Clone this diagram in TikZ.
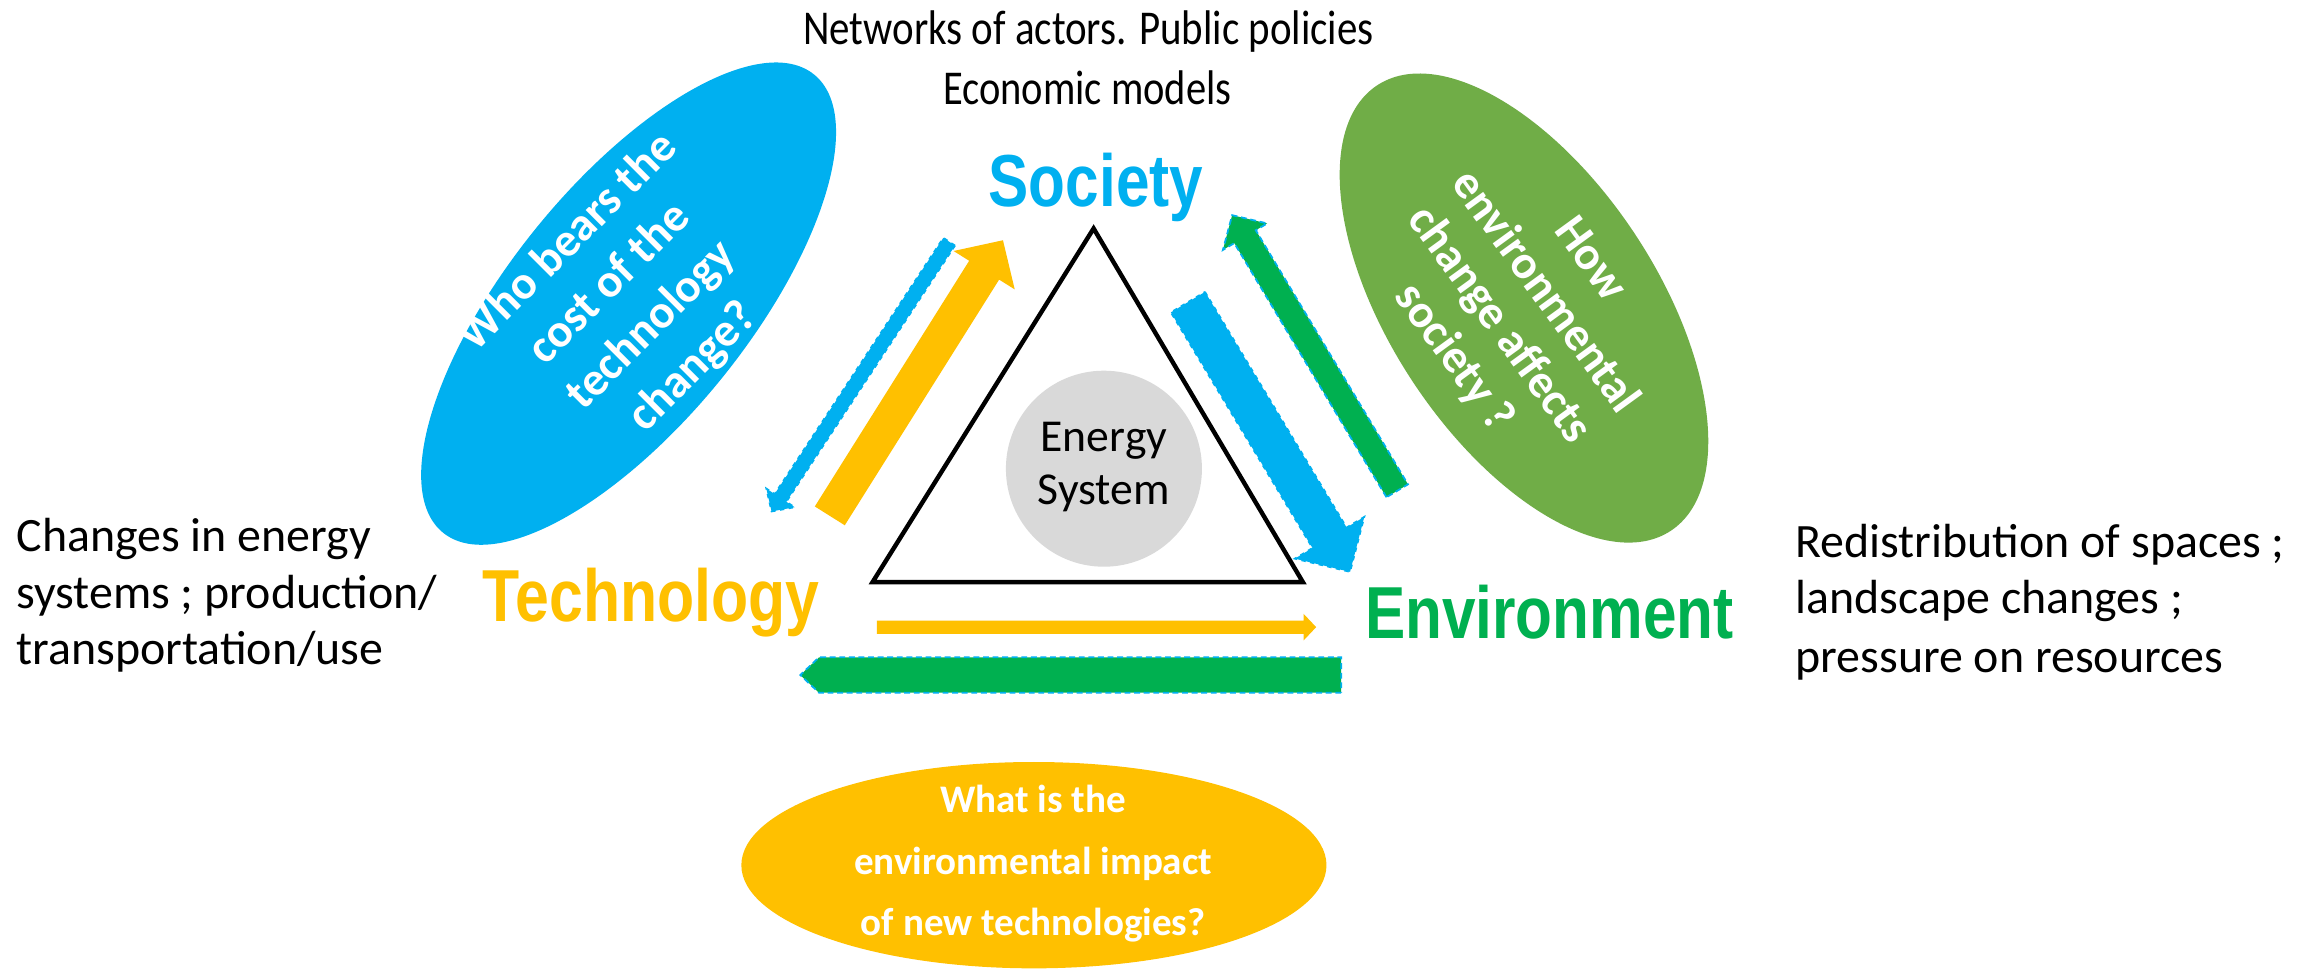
\documentclass[tikz,border=0pt]{standalone}
\usepackage{fontspec}
\setmainfont{Carlito}
\newfontfamily\headfont{Liberation Sans}
\usepackage{graphicx}
\usetikzlibrary{calc,shapes.geometric}
\definecolor{cblue}{HTML}{00B0F0}
\definecolor{cyellow}{HTML}{FFC000}
\definecolor{cgreen}{HTML}{00B050}
\definecolor{cleaf}{HTML}{70AD47}
\definecolor{cgray}{HTML}{D9D9D9}
% #1 style, #2 tail, #3 tip, #4 half body, #5 half head, #6 head length
\newcommand\blockarrow[6]{%
  \coordinate (ba-hb) at ($(#3)!#6!(#2)$);
  \path[#1] ($(#2)!#4!90:(#3)$) -- ($(ba-hb)!#4!-90:(#2)$) -- ($(ba-hb)!#5!-90:(#2)$)
    -- (#3) -- ($(ba-hb)!#5!90:(#2)$) -- ($(ba-hb)!#4!90:(#2)$) -- ($(#2)!#4!-90:(#3)$) -- cycle;
}
\tikzset{
  qtext/.style={text=white, align=center, inner sep=0},
  bodytext/.style={anchor=base west, inner sep=0, font=\fontsize{32.5}{38}\selectfont},
  headlbl/.style={anchor=base west, inner sep=0, font=\headfont\bfseries\fontsize{50}{60}\selectfont},
  bluearrow/.style={fill=cblue, draw=cblue, dashed, line width=1.2pt},
  greenarrow/.style={fill=cgreen, draw=cblue, dash pattern=on 4pt off 2.5pt, line width=1.2pt},
  yellowarrow/.style={fill=cyellow},
}
\begin{document}
\begin{tikzpicture}[x=1pt,y=-1pt]
\useasboundingbox (0,0) rectangle (1568,657);
\fill[white] (0,0) rectangle (1568,657);

% question ellipses
\node[ellipse, fill=cblue, minimum width=400pt, minimum height=162pt, rotate=51, inner sep=0] (qblue) at (426.5,206) {};
\node[qtext, rotate=45, font=\fontsize{32}{40}\selectfont\bfseries] (qbluet) at (428,207) {Who bears the\\cost of the\\technology\\change?};

\node[ellipse, fill=cleaf, minimum width=362pt, minimum height=181pt, rotate=-56.6, inner sep=0] (qgreen) at (1034,209) {};
\node[qtext, rotate=-54, font=\fontsize{32}{38}\selectfont\bfseries] (qgreent) at (1032,210) {How\\environmental\\change affects\\society ?};

\node[ellipse, fill=cyellow, minimum width=397pt, minimum height=140pt, inner sep=0] (qyellow) at (701.5,587) {};
\node[qtext, font=\fontsize{26.5}{41.5}\selectfont\bfseries] (qyellowt) at (701,586) {What is the\\environmental impact\\of new technologies?};

% arrows
\coordinate (a1) at (644,164); \coordinate (a2) at (523.5,347);
\blockarrow{bluearrow}{a1}{a2}{4.75pt}{11.5pt}{11pt}
\coordinate (b1) at (563,350); \coordinate (b2) at (680.5,163);
\blockarrow{yellowarrow}{b1}{b2}{12pt}{24.5pt}{24pt}
\coordinate (c1) at (948,333); \coordinate (c2) at (836,146);
\blockarrow{greenarrow}{c1}{c2}{8.5pt}{17.5pt}{17pt}
\coordinate (d1) at (806,205); \coordinate (d2) at (916,388);
\blockarrow{bluearrow}{d1}{d2}{13.5pt}{27.5pt}{27pt}
\coordinate (e1) at (595,425.5); \coordinate (e2) at (893,425.5);
\blockarrow{yellowarrow}{e1}{e2}{4.5pt}{9pt}{8.5pt}
\coordinate (f1) at (910,458); \coordinate (f2) at (543,458);
\blockarrow{greenarrow}{f1}{f2}{12pt}{12pt}{12.7pt}

% triangle
\coordinate (tapex) at (742,155); \coordinate (tleft) at (592,395); \coordinate (tright) at (884,395);
\draw[line width=3pt, line join=miter] (tapex) -- (tleft) -- (tright) -- cycle;

% energy system
\node[circle, fill=cgray, minimum size=133pt, inner sep=0] (energy) at (749,318) {};
\node[align=center, inner sep=0, font=\fontsize{31}{36}\selectfont] (energyt) at (749,317) {Energy\\System};

% top text
\node[anchor=base, inner sep=0, font=\fontsize{33}{38}\selectfont] (net) at (738.5,30.3) {\resizebox{387pt}{\height}{Networks of actors. Public policies}};
\node[anchor=base, inner sep=0, font=\fontsize{33}{38}\selectfont] (eco) at (737.8,71) {\resizebox{195.5pt}{\height}{Economic models}};

% main labels
\node[headlbl, text=cblue] (soc) at (670.6,140) {\resizebox{145.5pt}{\height}{Society}};
\node[headlbl, text=cyellow] (tech) at (327.5,421.8) {\resizebox{228.3pt}{\height}{Technology}};
\node[headlbl, text=cgreen] (env) at (926,433.5) {\resizebox{250pt}{\height}{Environment}};

% side texts
\node[bodytext] (l1) at (11,374) {Changes in energy};
\node[bodytext] (l2) at (11,412.6) {systems ; production/};
\node[bodytext] (l3) at (11,451) {transportation/use};
\node[bodytext] (r1) at (1218,378) {Redistribution of spaces ;};
\node[bodytext] (r2) at (1218,416) {landscape changes ;};
\node[bodytext] (r3) at (1218,456) {pressure on resources};
\end{tikzpicture}
\end{document}
